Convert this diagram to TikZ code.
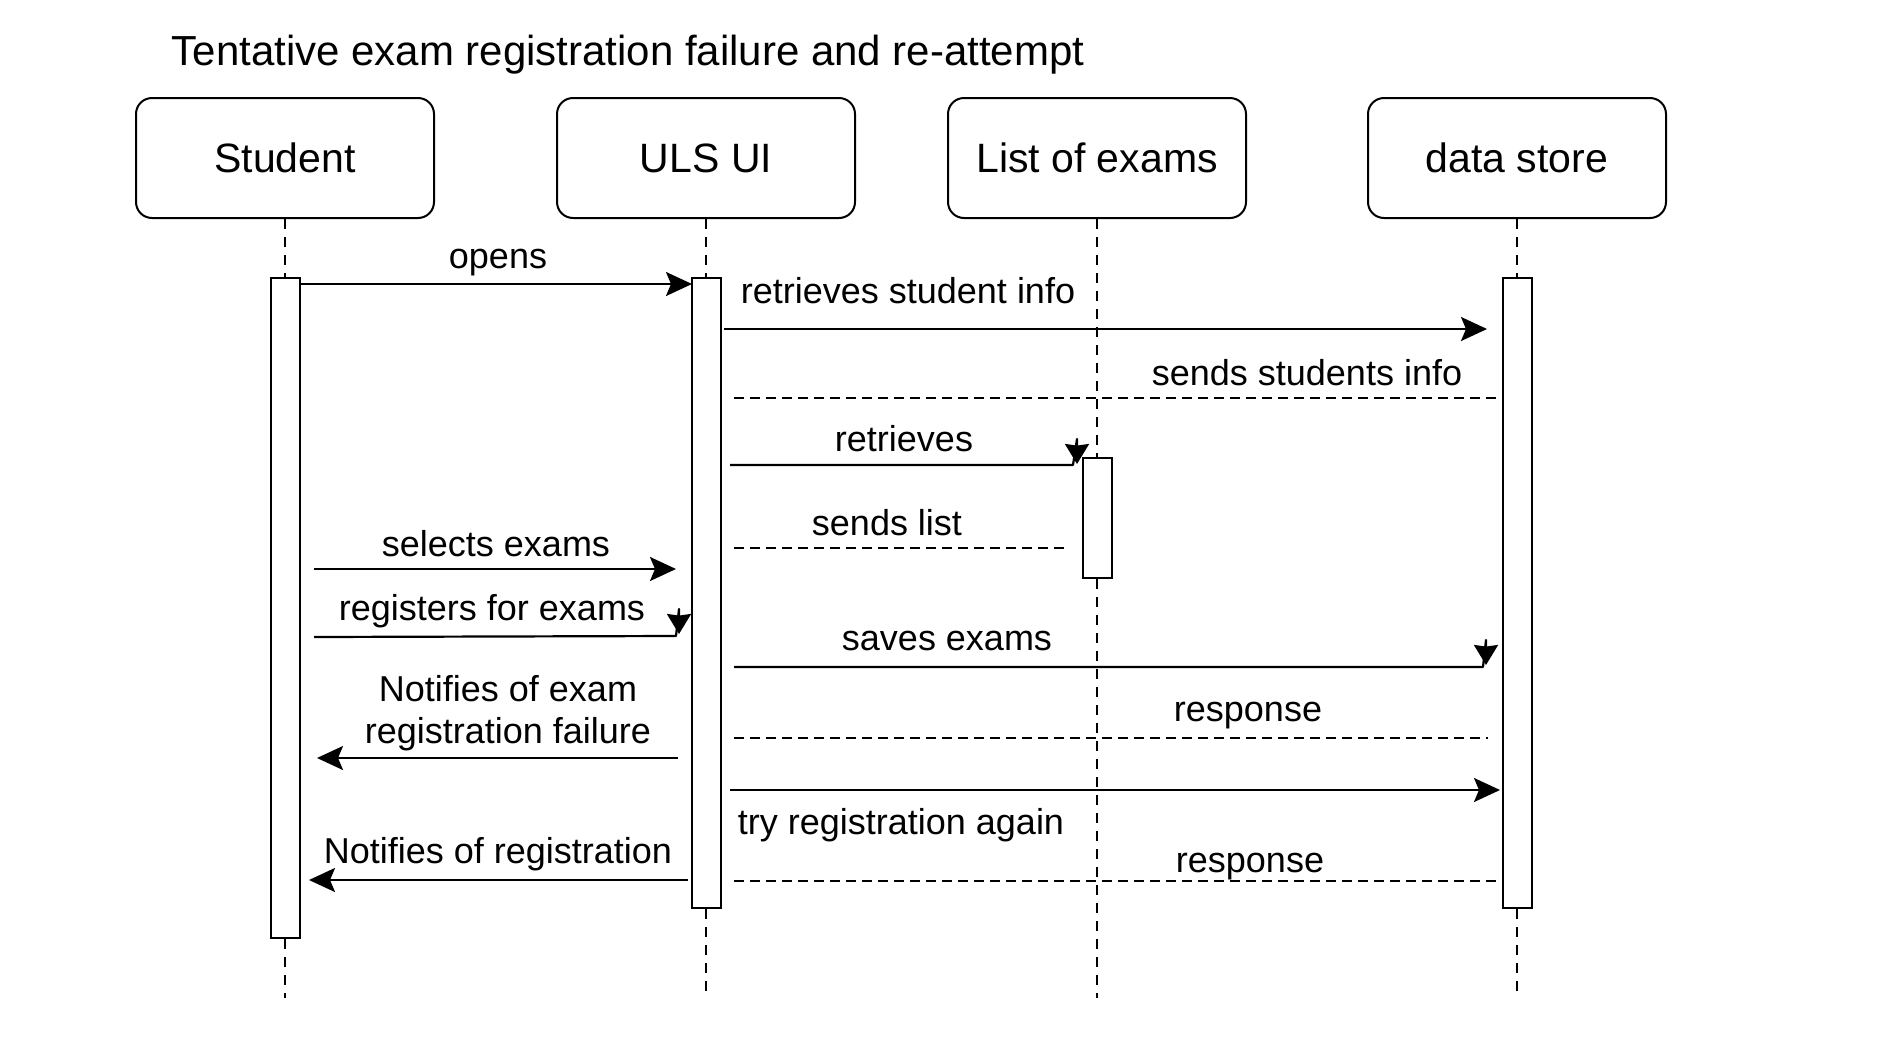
\documentclass[tikz,border=0pt]{standalone}
\usepackage{fontspec}
\setmainfont{Liberation Sans}
\usetikzlibrary{arrows.meta}
\tikzstyle{head} = [rectangle, rounded corners=8pt, minimum width=149pt, minimum height=60pt, text centered, draw=black, line width=1pt, font=\fontsize{20.5}{24}\selectfont]
\tikzstyle{bar} = [rectangle, minimum width=14.5pt, inner sep=0pt, draw=black, fill=white, line width=1pt]
\tikzstyle{msg} = [inner sep=1pt, align=center, font=\fontsize{18}{21}\selectfont]
\tikzstyle{lifeline} = [line width=0.9pt, dash pattern=on 5pt off 4pt]
\tikzstyle{reply} = [line width=1pt, dash pattern=on 5pt off 3pt]
\tikzstyle{arrow} = [line width=1.1pt, -{Stealth[length=13pt, width=12pt, inset=2.5pt]}]
\tikzstyle{arrowS} = [line width=1.1pt, line join=round, -{Stealth[length=10pt, width=12pt, inset=0.8pt]}]

\begin{document}
\begin{tikzpicture}[x=0.5pt, y=-0.5pt]
		\useasboundingbox (0,0) rectangle (1881,1045);
		\node (title) [msg, font=\fontsize{21}{25}\selectfont] at (628,55) {Tentative exam registration failure and re-attempt};
		% participants
		\node (student) [head] at (285,158) {Student};
		\node (uls) [head] at (706,158) {ULS UI};
		\node (list) [head] at (1097,158) {List of exams};
		\node (store) [head] at (1517,158) {data store};
		% activation bars
		\node (sbar) [bar, minimum height=330pt] at (285,608) {};
		\node (ubar) [bar, minimum height=315pt] at (706,593) {};
		\node (lbar) [bar, minimum height=60pt] at (1097,518) {};
		\node (dbar) [bar, minimum height=315pt] at (1517,593) {};
		\coordinate (send) at (285,998);
		\coordinate (uend) at (706,998);
		\coordinate (lend) at (1097,998);
		\coordinate (dend) at (1517,998);
		\draw [lifeline] (student) -- (sbar);
		\draw [lifeline] (sbar) -- (send);
		\draw [lifeline] (uls) -- (ubar);
		\draw [lifeline] (ubar) -- (uend);
		\draw [lifeline] (list) -- (lbar);
		\draw [lifeline] (lbar) -- (lend);
		\draw [lifeline] (store) -- (dbar);
		\draw [lifeline] (dbar) -- (dend);
		% message ends
		\coordinate (opensA) at (300,284);
		\coordinate (opensB) at (692,284);
		\coordinate (infoA) at (724,329);
		\coordinate (infoB) at (1487,329);
		\coordinate (sendsA) at (734,398);
		\coordinate (sendsB) at (1500,398);
		\coordinate (retrA) at (730,465);
		\coordinate (retrB) at (1073,465);
		\coordinate (retrT) at (1077,439);
		\coordinate (retrC) at (1077,464);
		\coordinate (listA) at (734,548);
		\coordinate (listB) at (1068,548);
		\coordinate (selA) at (314,569);
		\coordinate (selB) at (676,569);
		\coordinate (regA) at (314,637);
		\coordinate (regB) at (676,636);
		\coordinate (regT) at (679,609);
		\coordinate (regC) at (679,634);
		\coordinate (saveA) at (734,667);
		\coordinate (saveB) at (1483,667);
		\coordinate (saveT) at (1486,640);
		\coordinate (saveC) at (1486,665);
		\coordinate (respA) at (734,738);
		\coordinate (respB) at (1488,738);
		\coordinate (failA) at (678,758);
		\coordinate (failB) at (317,758);
		\coordinate (tryA) at (730,790);
		\coordinate (tryB) at (1500,790);
		\coordinate (notA) at (688,880);
		\coordinate (notB) at (309,880);
		\coordinate (resp2A) at (734,881);
		\coordinate (resp2B) at (1498,881);
		% messages
		\draw [arrow] (opensA) -- (opensB);
		\draw [arrow] (infoA) -- (infoB);
		\draw [reply] (sendsA) -- (sendsB);
		\draw [arrowS] (retrA) -- (retrB) -- (retrT) -- (retrC);
		\draw [reply] (listA) -- (listB);
		\draw [arrow] (selA) -- (selB);
		\draw [arrowS] (regA) -- (regB) -- (regT) -- (regC);
		\draw [arrowS] (saveA) -- (saveB) -- (saveT) -- (saveC);
		\draw [reply] (respA) -- (respB);
		\draw [arrow] (failA) -- (failB);
		\draw [arrow] (tryA) -- (tryB);
		\draw [arrow] (notA) -- (notB);
		\draw [reply] (resp2A) -- (resp2B);
		% labels
		\node (opens) [msg] at (498,263) {opens};
		\node (retrinfo) [msg] at (908,291) {retrieves student info};
		\node (sendsinfo) [msg] at (1307,373) {sends students info};
		\node (retr) [msg] at (904,439) {retrieves};
		\node (sendslist) [msg] at (887,523) {sends list};
		\node (selects) [msg] at (496,544) {selects exams};
		\node (registers) [msg] at (492,611) {registers for exams};
		\node (failure) [msg] at (508,713) {Notifies of exam\\registration failure};
		\node (saves) [msg] at (947,641) {saves exams};
		\node (resp) [msg] at (1248,716) {response};
		\node (again) [msg] at (901,825) {try registration again};
		\node (resp2) [msg] at (1250,867) {response};
		\node (notifies) [msg] at (498,854) {Notifies of registration};
	\end{tikzpicture}
\end{document}
